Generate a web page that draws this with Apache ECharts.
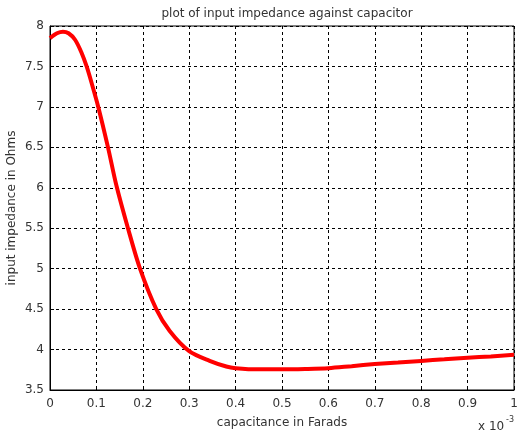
<!DOCTYPE html>
<html>
<head>
<meta charset="utf-8">
<script src="https://cdn.jsdelivr.net/npm/echarts@6/dist/echarts.min.js"></script>
<style>
  html, body { margin: 0; padding: 0; background: #fff; }
  #chart { width: 518px; height: 438px; }
</style>
</head>
<body>
<div id="chart"></div>
<script>
// capacitance, in units of 1e-3 F
const capacitance = [0, 0.015, 0.028, 0.04, 0.054, 0.068, 0.079, 0.09, 0.104, 0.125, 0.143, 0.168, 0.194, 0.229, 0.258, 0.3, 0.344, 0.38, 0.4, 0.45, 0.5, 0.55, 0.6, 0.65, 0.7, 0.75, 0.8, 0.85, 0.9, 0.95, 1.0];
// input impedance, ohms
const impedance = [7.85, 7.91, 7.93, 7.91, 7.83, 7.67, 7.5, 7.29, 7.0, 6.5, 6.03, 5.5, 5.0, 4.5, 4.23, 3.98, 3.86, 3.79, 3.77, 3.755, 3.755, 3.76, 3.77, 3.795, 3.82, 3.84, 3.86, 3.88, 3.9, 3.915, 3.935];

const font = 'DejaVu Sans, Arial, sans-serif';
const textColor = '#333';

const chart = echarts.init(document.getElementById('chart'));
const gridLine = { show: true, lineStyle: { color: '#000', type: [3, 3], width: 1 } };

const option = {
  animation: false,
  title: {
    text: 'plot of input impedance against capacitor',
    left: 282, textAlign: 'center', top: 3,
    textStyle: { fontFamily: font, fontSize: 12, fontWeight: 'normal', color: textColor }
  },
  grid: {
    left: 50, right: 4, top: 26, bottom: 48,
    containLabel: false, outerBoundsMode: 'none',
    show: true, borderColor: '#000', borderWidth: 1
  },
  xAxis: {
    type: 'value', min: 0, max: 1, interval: 0.1,
    name: 'capacitance in Farads', nameLocation: 'middle', nameGap: 27,
    nameMoveOverlap: false,
    nameTextStyle: { fontFamily: font, fontSize: 12, color: textColor },
    axisLine: { lineStyle: { color: '#000' } },
    axisTick: { inside: true, length: 4, lineStyle: { color: '#000' } },
    axisLabel: { fontFamily: font, fontSize: 12, color: textColor, margin: 8 },
    splitLine: gridLine
  },
  yAxis: {
    type: 'value', min: 3.5, max: 8, interval: 0.5,
    name: 'input impedance in Ohms', nameLocation: 'middle', nameGap: 32,
    nameMoveOverlap: false,
    nameTextStyle: { fontFamily: font, fontSize: 12, color: textColor },
    axisLine: { show: true, lineStyle: { color: '#000' } },
    axisTick: { show: true, inside: true, length: 4, lineStyle: { color: '#000' } },
    axisLabel: { fontFamily: font, fontSize: 12, color: textColor, margin: 6 },
    splitLine: gridLine
  },
  graphic: [
    {
      type: 'text', left: 478, top: 421,
      style: { text: 'x 10', font: '12px ' + font, fill: textColor }
    },
    {
      type: 'text', left: 506, top: 416,
      style: { text: '-3', font: '8px ' + font, fill: textColor }
    }
  ],
  series: [{
    type: 'line',
    data: capacitance.map((c, i) => [c, impedance[i]]),
    smooth: 0.3,
    showSymbol: false,
    lineStyle: { color: '#ff0000', width: 4 }
  }]
};
chart.setOption(option);
</script>
</body>
</html>
